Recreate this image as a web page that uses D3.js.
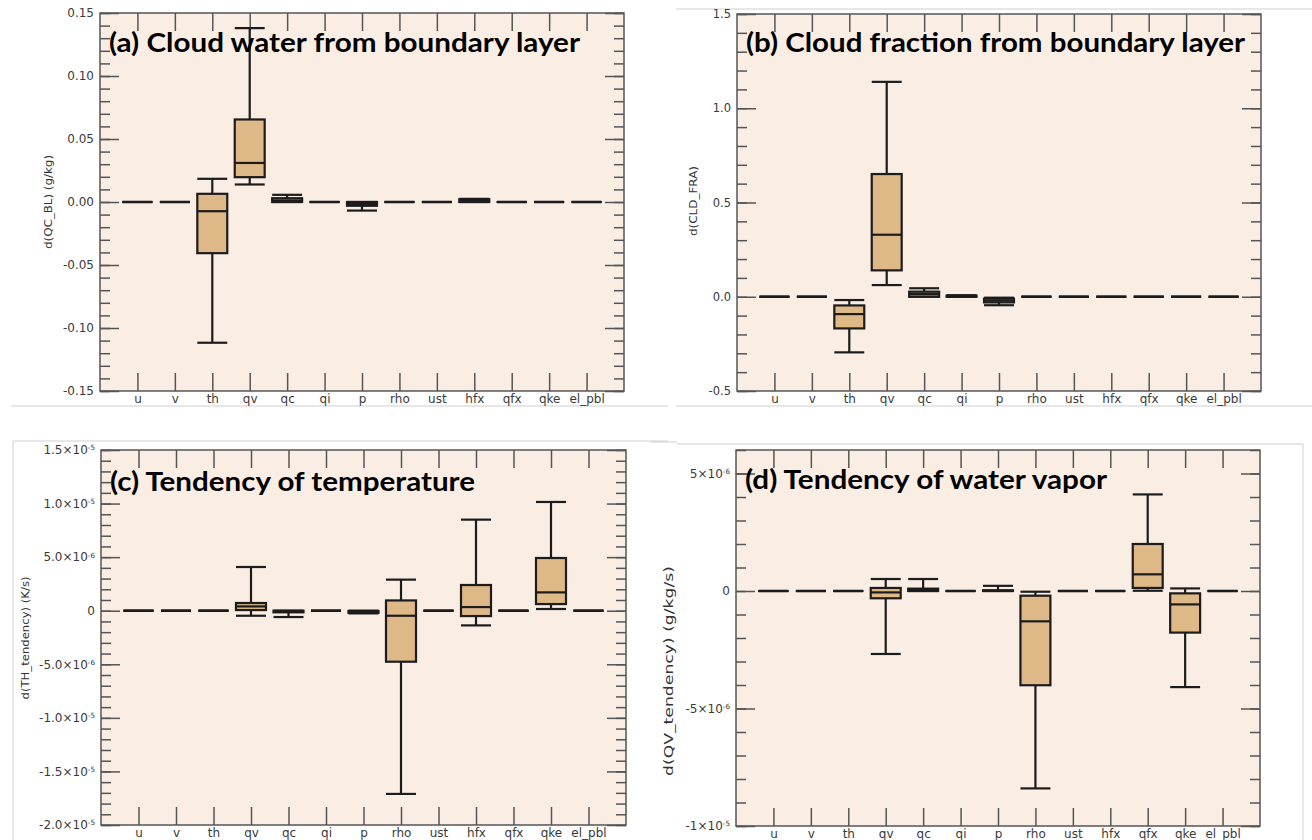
<!DOCTYPE html>
<meta charset="utf-8">
<html>
<head>
<script src="https://d3js.org/d3.v7.min.js"></script>
<style>
  body { margin: 0; background: #fff; }
  text { font-family: "DejaVu Sans", sans-serif; fill: #333; }
  .title { font-family: Lato, "Open Sans", sans-serif; font-weight: 700; fill: #000; }
</style>
</head>
<body>
<svg id="chart" width="1312" height="840"></svg>
<script>
var categories = ["u", "v", "th", "qv", "qc", "qi", "p", "rho", "ust", "hfx", "qfx", "qke", "el_pbl"];

// each row: [low whisker, q1, median, q3, high whisker]
var qcBL = [
  [0, 0, 0, 0, 0],
  [0, 0, 0, 0, 0],
  [-0.1117, -0.0406, -0.0073, 0.0065, 0.0184],
  [0.0139, 0.0197, 0.031, 0.0655, 0.138],
  [0, 0, 0.0012, 0.003, 0.0057],
  [0, 0, 0, 0, 0],
  [-0.0068, -0.003, -0.0015, 0, 0],
  [0, 0, 0, 0, 0],
  [0, 0, 0, 0, 0],
  [0, 0, 0.001, 0.0022, 0.0025],
  [0, 0, 0, 0, 0],
  [0, 0, 0, 0, 0],
  [0, 0, 0, 0, 0]
];
var cldFra = [
  [0, 0, 0, 0, 0],
  [0, 0, 0, 0, 0],
  [-0.295, -0.168, -0.092, -0.046, -0.0175],
  [0.062, 0.14, 0.329, 0.651, 1.14],
  [0, 0, 0.015, 0.027, 0.045],
  [0, 0, 0.003, 0.006, 0.008],
  [-0.045, -0.03, -0.02, -0.01, -0.005],
  [0, 0, 0, 0, 0],
  [0, 0, 0, 0, 0],
  [0, 0, 0, 0, 0],
  [0, 0, 0, 0, 0],
  [0, 0, 0, 0, 0],
  [0, 0, 0, 0, 0]
];
var thTend = [
  [0, 0, 0, 0, 0],
  [0, 0, 0, 0, 0],
  [0, 0, 0, 0, 0],
  [-0.47e-6, 0.06e-6, 0.4e-6, 0.72e-6, 4.08e-6],
  [-0.59e-6, -0.15e-6, -0.05e-6, 0, 0],
  [0, 0, 0, 0, 0],
  [-0.25e-6, -0.2e-6, -0.1e-6, -0.02e-6, 0],
  [-17.1e-6, -4.76e-6, -0.47e-6, 0.96e-6, 2.9e-6],
  [0, 0, 0, 0, 0],
  [-1.37e-6, -0.5e-6, 0.34e-6, 2.4e-6, 8.5e-6],
  [0, 0, 0, 0, 0],
  [0.16e-6, 0.62e-6, 1.71e-6, 4.92e-6, 10.15e-6],
  [0, 0, 0, 0, 0]
];
var qvTend = [
  [0, 0, 0, 0, 0],
  [0, 0, 0, 0, 0],
  [0, 0, 0, 0, 0],
  [-2.68e-6, -0.31e-6, -0.06e-6, 0.13e-6, 0.51e-6],
  [0, 0, 0.04e-6, 0.1e-6, 0.51e-6],
  [0, 0, 0, 0, 0],
  [0, 0, 0.01e-6, 0.03e-6, 0.22e-6],
  [-8.4e-6, -4.01e-6, -1.29e-6, -0.2e-6, -0.03e-6],
  [0, 0, 0, 0, 0],
  [0, 0, 0, 0, 0],
  [0.01e-6, 0.13e-6, 0.71e-6, 2.0e-6, 4.11e-6],
  [-4.09e-6, -1.77e-6, -0.57e-6, -0.1e-6, 0.11e-6],
  [0, 0, 0, 0, 0]
];

var ticksA = [-0.15, -0.10, -0.05, 0, 0.05, 0.10, 0.15];
var tickLabelsA = ["-0.15", "-0.10", "-0.05", "0.00", "0.05", "0.10", "0.15"];
var ticksB = [-0.5, 0, 0.5, 1.0, 1.5];
var tickLabelsB = ["-0.5", "0.0", "0.5", "1.0", "1.5"];
var ticksC = [-2e-5, -1.5e-5, -1e-5, -5e-6, 0, 5e-6, 1e-5, 1.5e-5];
var tickLabelsC = ["-2.0×10^-5", "-1.5×10^-5", "-1.0×10^-5", "-5.0×10^-6", "0", "5.0×10^-6", "1.0×10^-5", "1.5×10^-5"];
var ticksD = [-1e-5, -5e-6, 0, 5e-6];
var tickLabelsD = ["-1×10^-5", "-5×10^-6", "0", "5×10^-6"];

var svg = d3.select("#chart");

// thin grey edges left over from the pasted screenshots
var edges = [
  [11, 406, 668, 406], [676, 406, 1312, 406], [676, 9, 1312, 9],
  [13, 441, 668, 441], [13, 441, 13, 840],
  [650, 442, 677, 442], [677, 444, 1303, 444], [1303, 444, 1303, 840]
];
svg.selectAll("line.edge").data(edges).enter().append("line")
  .attr("class", "edge")
  .attr("x1", function(d) { return d[0]; }).attr("y1", function(d) { return d[1]; })
  .attr("x2", function(d) { return d[2]; }).attr("y2", function(d) { return d[3]; })
  .style("stroke", "#cfcfcf").style("stroke-width", 1);

function styleAxis(g) {
  g.select(".domain").remove();
  g.selectAll(".tick line").style("stroke", "#555").style("stroke-width", 1.5);
}

function drawPanel(p) {
  var x = d3.scaleLinear().domain([0, categories.length + 1]).range([p.left, p.right]);
  var y = d3.scaleLinear().domain(p.domain).range([p.bottom, p.top]);
  var g = svg.append("g");

  g.append("rect")
    .attr("x", p.left).attr("y", p.top)
    .attr("width", p.right - p.left).attr("height", p.bottom - p.top)
    .style("fill", "#faeee4");

  var minor = y.ticks(p.minorCount);

  // left axis: minor, then major with labels
  g.append("g").attr("transform", "translate(" + p.left + ",0)")
    .call(d3.axisLeft(y).tickValues(minor).tickSize(-10).tickFormat(""))
    .call(styleAxis);
  var left = g.append("g").attr("transform", "translate(" + p.left + ",0)")
    .call(d3.axisLeft(y).tickValues(p.ticks).tickSize(-19).tickPadding(6).tickFormat(""))
    .call(styleAxis);
  left.selectAll(".tick text").each(function(d, i) {
    var t = d3.select(this).attr("font-size", p.tickFont).style("font-family", "DejaVu Sans").style("fill", "#3a3a3a");
    var parts = p.labels[i].split("^");
    t.append("tspan").text(parts[0]);
    if (parts.length > 1) {
      t.append("tspan").attr("dy", "-0.55em").attr("font-size", p.tickFont * 0.6).text(parts[1]);
    }
  });

  // right axis, ticks only
  g.append("g").attr("transform", "translate(" + p.right + ",0)")
    .call(d3.axisRight(y).tickValues(minor).tickSize(-10).tickFormat(""))
    .call(styleAxis);
  g.append("g").attr("transform", "translate(" + p.right + ",0)")
    .call(d3.axisRight(y).tickValues(p.ticks).tickSize(-19).tickFormat(""))
    .call(styleAxis);

  // bottom and top category ticks
  var catTicks = d3.range(1, categories.length + 1);
  g.append("g").attr("transform", "translate(0," + p.bottom + ")")
    .call(d3.axisBottom(x).tickValues(catTicks).tickSize(-18).tickPadding(3)
      .tickFormat(function(d) { return categories[d - 1]; }))
    .call(styleAxis)
    .selectAll(".tick text").attr("font-size", 12).style("font-family", "DejaVu Sans").style("fill", "#3a3a3a");
  g.append("g").attr("transform", "translate(0," + p.top + ")")
    .call(d3.axisTop(x).tickValues(catTicks).tickSize(-18).tickFormat(""))
    .call(styleAxis);

  // boxes
  var hw = (x(1) - x(0)) * 0.4;
  var boxes = g.selectAll("g.box").data(p.data).enter().append("g").attr("class", "box");
  boxes.append("line")
    .attr("x1", function(d, i) { return x(i + 1); }).attr("x2", function(d, i) { return x(i + 1); })
    .attr("y1", function(d) { return y(d[0]); }).attr("y2", function(d) { return y(d[4]); });
  boxes.append("rect")
    .attr("x", function(d, i) { return x(i + 1) - hw; })
    .attr("y", function(d) { return y(d[3]); })
    .attr("width", hw * 2)
    .attr("height", function(d) { return y(d[1]) - y(d[3]); })
    .style("fill", "#deb887");
  boxes.append("line")
    .attr("x1", function(d, i) { return x(i + 1) - hw; }).attr("x2", function(d, i) { return x(i + 1) + hw; })
    .attr("y1", function(d) { return y(d[2]); }).attr("y2", function(d) { return y(d[2]); });
  boxes.append("line")
    .attr("x1", function(d, i) { return x(i + 1) - hw; }).attr("x2", function(d, i) { return x(i + 1) + hw; })
    .attr("y1", function(d) { return y(d[0]); }).attr("y2", function(d) { return y(d[0]); });
  boxes.append("line")
    .attr("x1", function(d, i) { return x(i + 1) - hw; }).attr("x2", function(d, i) { return x(i + 1) + hw; })
    .attr("y1", function(d) { return y(d[4]); }).attr("y2", function(d) { return y(d[4]); });
  boxes.selectAll("line, rect").style("stroke", "#1c1c1c").style("stroke-width", 2.2);

  // frame
  g.append("rect")
    .attr("x", p.left).attr("y", p.top)
    .attr("width", p.right - p.left).attr("height", p.bottom - p.top)
    .style("fill", "none").style("stroke", "#555").style("stroke-width", 1.5);

  g.append("text").attr("class", "title")
    .attr("x", p.titleX).attr("y", p.titleY)
    .attr("font-size", 26)
    .attr("textLength", p.titleW).attr("lengthAdjust", "spacingAndGlyphs")
    .text(p.title);

  g.append("text")
    .attr("transform", "translate(" + p.labelX + "," + p.labelY + ")rotate(-90)")
    .attr("text-anchor", "middle")
    .attr("dy", "0.35em")
    .attr("font-size", p.labelFont)
    .attr("textLength", p.labelW).attr("lengthAdjust", "spacingAndGlyphs")
    .text(p.ylabel);
}

drawPanel({
  left: 100, top: 13, right: 624, bottom: 391,
  domain: [-0.15, 0.15], ticks: ticksA, labels: tickLabelsA, minorCount: 30, tickFont: 12,
  data: qcBL,
  title: "(a) Cloud water from boundary layer", titleX: 109, titleY: 52, titleW: 471,
  ylabel: "d(QC_BL) (g/kg)", labelX: 48, labelY: 202, labelW: 94, labelFont: 11
});
drawPanel({
  left: 737, top: 14, right: 1261, bottom: 391,
  domain: [-0.5, 1.5], ticks: ticksB, labels: tickLabelsB, minorCount: 20, tickFont: 11.5,
  data: cldFra,
  title: "(b) Cloud fraction from boundary layer", titleX: 746, titleY: 52, titleW: 499,
  ylabel: "d(CLD_FRA)", labelX: 693, labelY: 201, labelW: 70, labelFont: 11
});
drawPanel({
  left: 101, top: 450, right: 626, bottom: 825,
  domain: [-2e-5, 1.5e-5], ticks: ticksC, labels: tickLabelsC, minorCount: 35, tickFont: 12,
  data: thTend,
  title: "(c) Tendency of temperature", titleX: 110, titleY: 491, titleW: 365,
  ylabel: "d(TH_tendency) (K/s)", labelX: 25, labelY: 638, labelW: 123, labelFont: 11
});
drawPanel({
  left: 736, top: 450, right: 1260, bottom: 826,
  domain: [-1e-5, 6e-6], ticks: ticksD, labels: tickLabelsD, minorCount: 16, tickFont: 12,
  data: qvTend,
  title: "(d) Tendency of water vapor", titleX: 745, titleY: 489, titleW: 362,
  ylabel: "d(QV_tendency) (g/kg/s)", labelX: 668, labelY: 671, labelW: 210, labelFont: 13
});
</script>
</body>
</html>
